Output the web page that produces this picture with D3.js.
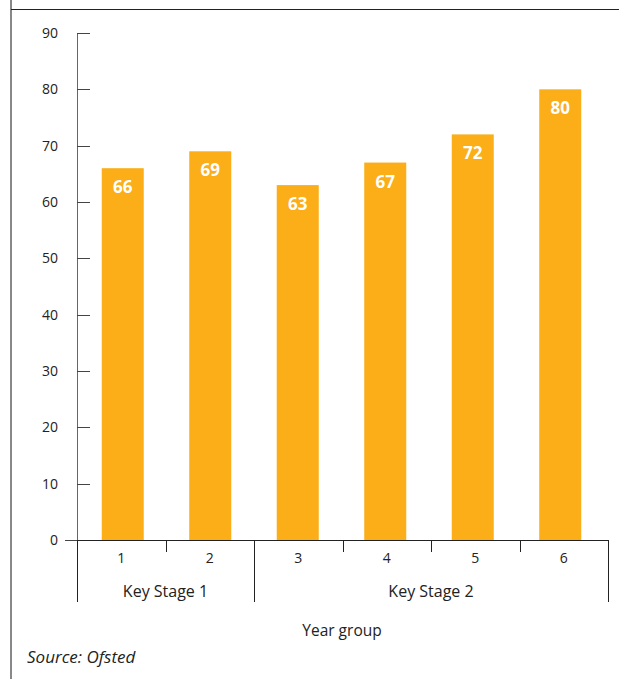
<!DOCTYPE html>
<html>
<head>
<meta charset="utf-8">
<script src="https://cdn.jsdelivr.net/npm/d3@7"></script>
<style>
  body { margin: 0; background: #fff; }
  text { font-family: "Open Sans", "Noto Sans", sans-serif; fill: #222; }
</style>
</head>
<body>
<div id="chart"></div>
<script>
// values
const years = ['1', '2', '3', '4', '5', '6'];
const values = [66, 69, 63, 67, 72, 80];
const stages = ['Key Stage 1', 'Key Stage 2'];
const stageYears = [['1', '2'], ['3', '4', '5', '6']];
const yTicks = [0, 10, 20, 30, 40, 50, 60, 70, 80, 90];

const width = 619;
const height = 679;

const svg = d3.select('#chart')
  .append('svg')
  .attr('width', width)
  .attr('height', height);

// frame lines
svg.append('line')
  .attr('x1', 11).attr('x2', 11).attr('y1', 0).attr('y2', height)
  .attr('stroke', '#888').attr('stroke-width', 2);
svg.append('line')
  .attr('x1', 11).attr('x2', width).attr('y1', 9.5).attr('y2', 9.5)
  .attr('stroke', '#222').attr('stroke-width', 1.2);

// one slot per year group for the axis divisions
const xSlot = d3.scaleBand()
  .domain(years)
  .range([77, 608]);

// bars are spaced slightly tighter than the slots in the original
const x = d3.scaleBand()
  .domain(years)
  .range([79, 604])
  .paddingInner(0.52)
  .paddingOuter(0.26);

const y = d3.scaleLinear()
  .domain([0, 90])
  .range([540, 33]);

// y axis
const yAxis = svg.append('g');
yAxis.append('line')
  .attr('x1', 77.5).attr('x2', 77.5).attr('y1', y(90)).attr('y2', y(0))
  .attr('stroke', '#666').attr('stroke-width', 1);
yAxis.selectAll('.tick')
  .data(yTicks)
  .enter().append('line')
  .attr('x1', d => d === 0 ? 65 : 77)
  .attr('x2', 90)
  .attr('y1', d => Math.round(y(d)) + 0.5)
  .attr('y2', d => Math.round(y(d)) + 0.5)
  .attr('stroke', '#444');
yAxis.selectAll('.lbl')
  .data(yTicks)
  .enter().append('text')
  .attr('x', 58)
  .attr('y', d => y(d))
  .attr('dy', '0.35em')
  .attr('text-anchor', 'end')
  .attr('font-size', 14)
  .text(d => d);

// bars
svg.selectAll('rect.bar')
  .data(values)
  .enter().append('rect')
  .attr('class', 'bar')
  .attr('x', (d, i) => x(years[i]))
  .attr('width', x.bandwidth())
  .attr('y', d => y(d))
  .attr('height', d => y(0) - y(d))
  .attr('fill', '#fbae17');

svg.selectAll('text.val')
  .data(values)
  .enter().append('text')
  .attr('class', 'val')
  .attr('x', (d, i) => x(years[i]) + x.bandwidth() / 2)
  .attr('y', d => y(d) + 25)
  .attr('text-anchor', 'middle')
  .attr('font-size', 17)
  .attr('font-weight', 'bold')
  .style('fill', '#fff')
  .text(d => d);

// x axis
const step = xSlot.step();
const x0 = 77;
svg.append('line')
  .attr('x1', 77).attr('x2', 608.5).attr('y1', 540.5).attr('y2', 540.5)
  .attr('stroke', '#222');

const boundaries = d3.range(years.length + 1).map(i => x0 + i * step);
let acc = 0;
const stageEdges = [0].concat(stageYears.map(s => (acc += s.length)));

svg.selectAll('.xtick')
  .data(boundaries)
  .enter().append('line')
  .attr('x1', d => Math.round(d) + 0.5)
  .attr('x2', d => Math.round(d) + 0.5)
  .attr('y1', 540)
  .attr('y2', (d, i) => stageEdges.includes(i) ? 602 : 552)
  .attr('stroke', '#222');

svg.selectAll('.xlbl')
  .data(years)
  .enter().append('text')
  .attr('x', d => xSlot(d) + step / 2)
  .attr('y', 563)
  .attr('text-anchor', 'middle')
  .attr('font-size', 14)
  .text(d => d);

svg.selectAll('.stage')
  .data(stages)
  .enter().append('text')
  .attr('x', (d, i) => x0 + step * (stageEdges[i] + stageEdges[i + 1]) / 2)
  .attr('y', 597)
  .attr('text-anchor', 'middle')
  .attr('font-size', 16)
  .text(d => d);

svg.append('text')
  .attr('x', 342)
  .attr('y', 636)
  .attr('text-anchor', 'middle')
  .attr('font-size', 15.5)
  .text('Year group');

svg.append('text')
  .attr('x', 27)
  .attr('y', 663)
  .attr('font-size', 17)
  .attr('font-style', 'italic')
  .text('Source: Ofsted');
</script>
</body>
</html>
